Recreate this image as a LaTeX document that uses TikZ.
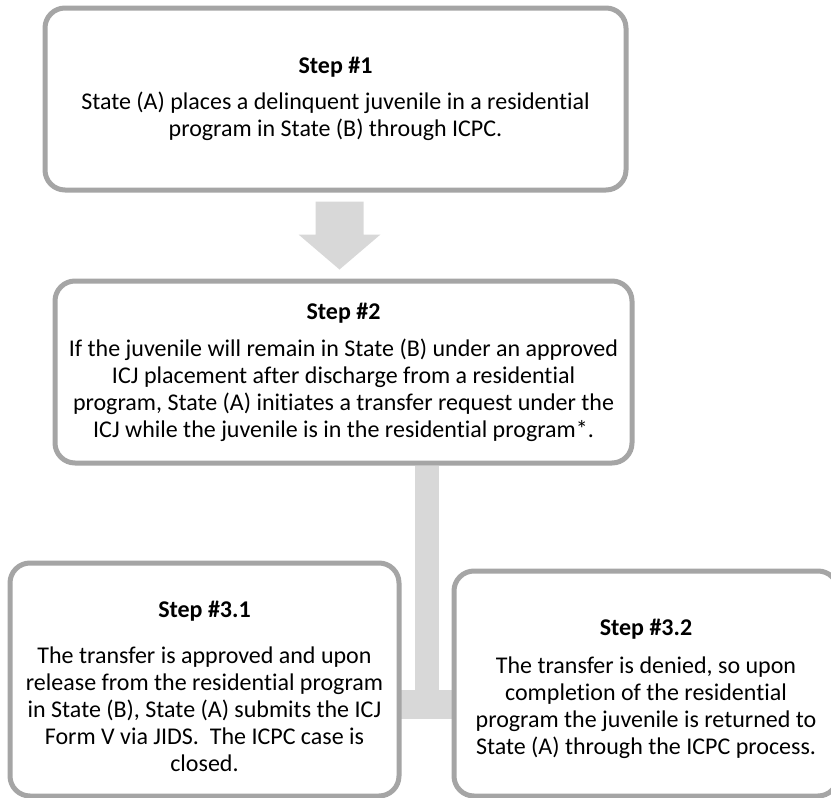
\documentclass[tikz,border=0pt]{standalone}
\usepackage{fontspec}
\setmainfont{Carlito}[Ligatures={NoCommon}]
\usetikzlibrary{calc,backgrounds}
\definecolor{boxline}{HTML}{A5A5A5}
\definecolor{connfill}{HTML}{D8D8D8}
\newcommand{\toppad}[1]{\rule{0pt}{#1}}
\begin{document}
\begin{tikzpicture}[x=1pt,y=-1pt,
  stepbox/.style={draw=boxline, line width=5pt, fill=white, rounded corners=20pt,
    align=center, font=\fontsize{24}{27}\selectfont, inner sep=0pt},
  conn/.style={fill=connfill, draw=none}]
\useasboundingbox (0,0) rectangle (831,798);
\clip (0,0) rectangle (831,798);
\node[stepbox, minimum width=581pt, minimum height=182pt] (s1) at (335.5,99)
  {\textbf{Step \#1}\\[9pt]
   State (A) places a delinquent juvenile in a residential\\
   program in State (B) through ICPC.};
\node[stepbox, minimum width=577pt, minimum height=182pt] (s2) at (343.5,372)
  {\textbf{Step \#2}\\[10pt]
   If the juvenile will remain in State (B) under an approved\\
   ICJ placement after discharge from a residential\\
   program, State (A) initiates a transfer request under the\\
   ICJ while the juvenile is in the residential program*.};
\node[stepbox, minimum width=389pt, minimum height=233pt] (s31) at (204.5,679.5)
  {\toppad{30pt}\textbf{Step \#3.1}\\[19pt]
   The transfer is approved and upon\\
   release from the residential program\\
   in State (B), State (A) submits the ICJ\\
   Form V via JIDS.\ \ The ICPC case is\\
   closed.};
\node[stepbox, minimum width=384pt, minimum height=225pt] (s32) at (646,683.5)
  {\toppad{28pt}\textbf{Step \#3.2}\\[11pt]
   The transfer is denied, so upon\\
   completion of the residential\\
   program the juvenile is returned to\\
   State (A) through the ICPC process.};
\coordinate (am) at ($(s1.south)!0.5!(s2.north)$);
\coordinate (bx) at (427,704.5);
\begin{scope}[on background layer]
  \fill[conn] ($(s2.south -| bx)+(-12,0)$) rectangle ($(bx)+(12,14.5)$);
  \fill[conn] ($(s31.center |- bx)+(0,-14.5)$) rectangle ($(s32.center |- bx)+(0,14.5)$);
\end{scope}
\fill[conn] ($(am)+(-24,-34)$) -- ++(48,0) -- ++(0,33) -- ++(17,0)
  -- ($(am)+(0,34)$) -- ($(am)+(-41,-1)$) -- ++(17,0) -- cycle;
\end{tikzpicture}
\end{document}
